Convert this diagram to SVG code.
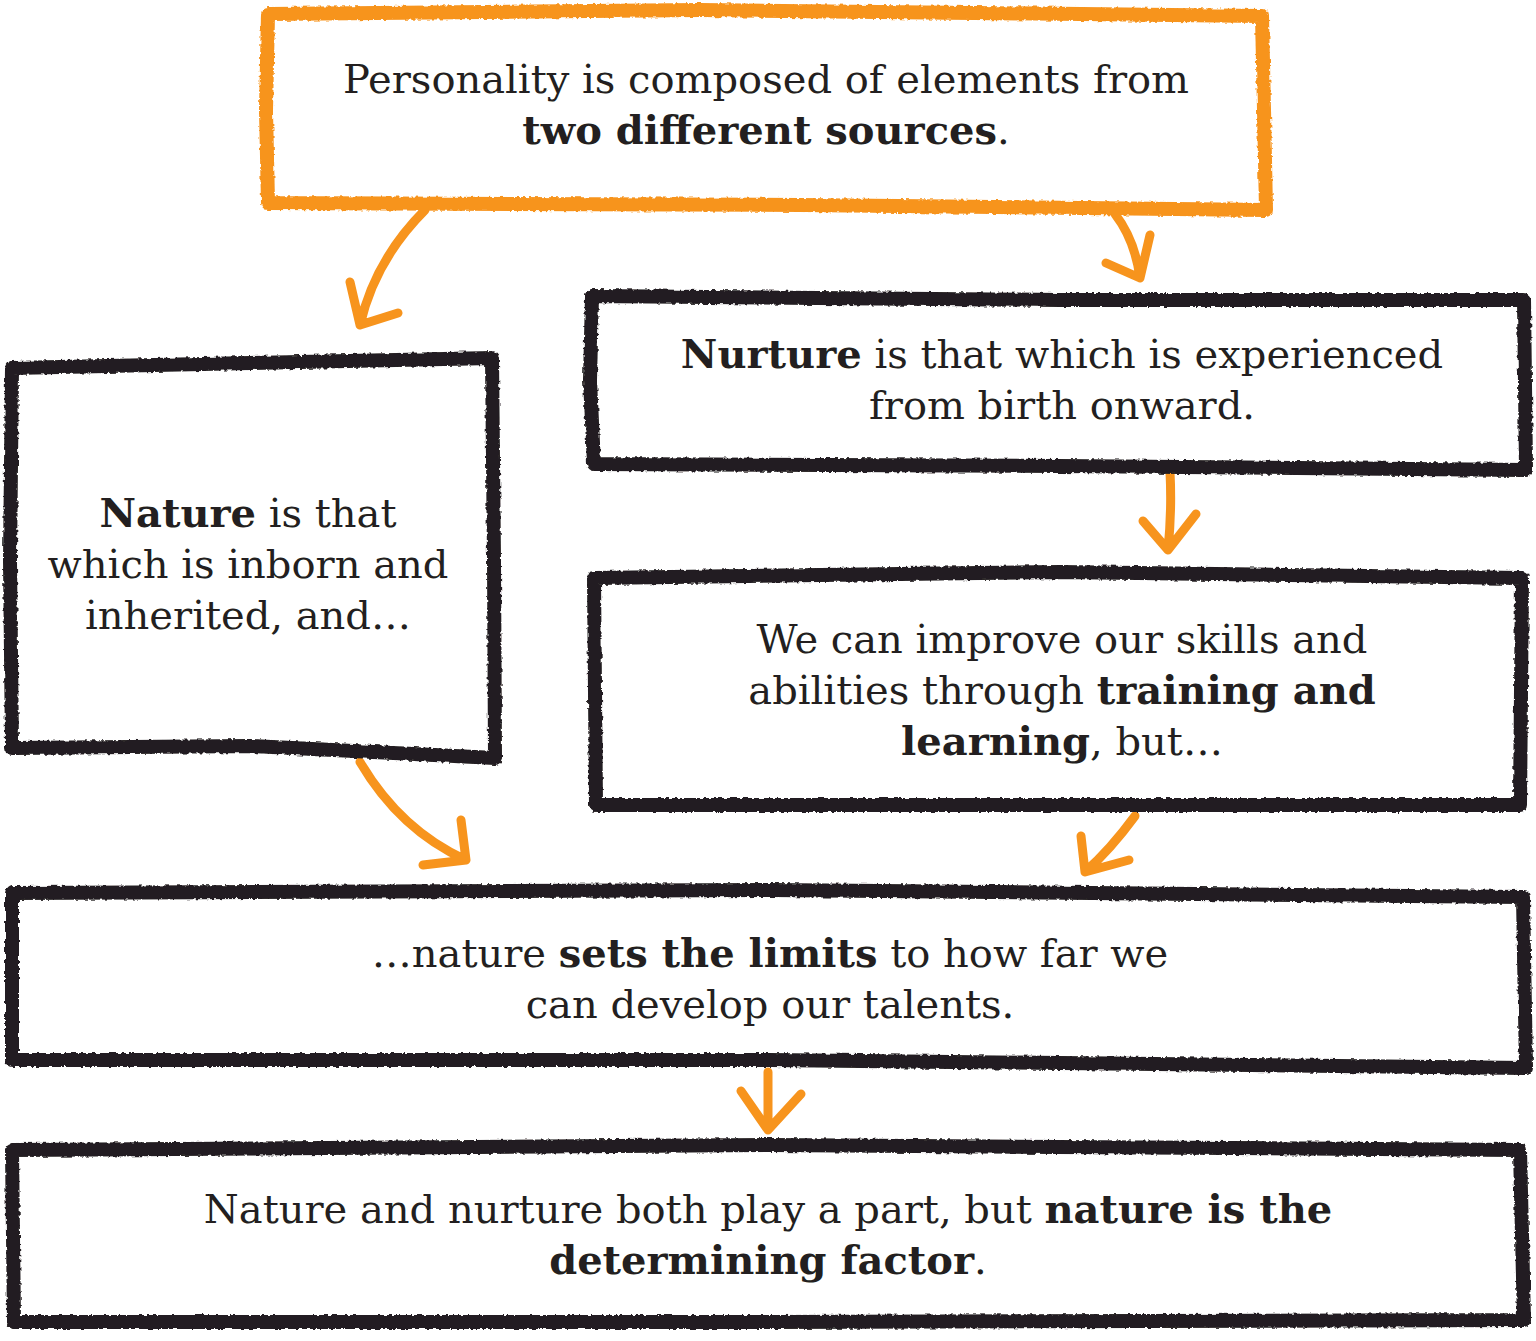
<svg xmlns="http://www.w3.org/2000/svg" width="1536" height="1341" viewBox="0 0 1536 1341">
<defs>
<filter id="rough" x="-5%" y="-5%" width="110%" height="110%">
<feTurbulence type="fractalNoise" baseFrequency="0.25" numOctaves="2" seed="3" result="n"/>
<feDisplacementMap in="SourceGraphic" in2="n" scale="4" xChannelSelector="R" yChannelSelector="G"/>
</filter>
<style>
.box{fill:#fff;stroke:#231f20;stroke-width:14;stroke-linejoin:round;filter:url(#rough)}
.obox{fill:#fff;stroke:#f7941d;stroke-width:14;stroke-linejoin:round;filter:url(#rough)}
.arr{fill:none;stroke:#f7941d;stroke-width:9;stroke-linecap:round;stroke-linejoin:round}
text{font-family:"DejaVu Serif","Liberation Serif",serif;font-size:40px;fill:#231f20;text-anchor:middle;font-weight:300}
.b{font-weight:bold}
</style>
</defs>
<rect width="1536" height="1341" fill="#fff"/>
<g id="connectors">
<path class="arr" d="M425,210 Q375,260 360,325 M350,282 L360,325 L398,313"/>
<path class="arr" d="M1115,214 Q1135,240 1140,278 M1106,263 L1140,278 L1150,235"/>
<path class="arr" d="M1170,472 Q1172,510 1168,550 M1143,521 L1168,550 L1196,514"/>
<path class="arr" d="M360,762 Q400,830 466,860 M461,820 L466,860 L423,865"/>
<path class="arr" d="M1135,816 Q1110,850 1085,872 M1081,836 L1085,872 L1129,860"/>
<path class="arr" d="M768,1072 L768,1130 M741,1091 L768,1130 L801,1094"/>
</g>
<g id="personality">
<path class="obox" d="M268,14 L700,10 L1262,16 L1264,110 L1266,210 L800,205 L268,203 L266,110 Z"/>
<text x="766" y="93">Personality is composed of elements from</text>
<text x="766" y="144"><tspan class="b">two different sources</tspan>.</text>
</g>
<g id="nature">
<path class="box" d="M12,368 L250,363 L492,358 L494,560 L495,758 L250,746 L12,748 L10,560 Z"/>
<text x="248" y="527"><tspan class="b">Nature</tspan> is that</text>
<text x="248" y="578">which is inborn and</text>
<text x="248" y="629">inherited, and…</text>
</g>
<g id="nurture">
<path class="box" d="M592,296 L1060,300 L1524,300 L1526,470 L1060,466 L594,464 L590,380 Z"/>
<text x="1062" y="368"><tspan class="b">Nurture</tspan> is that which is experienced</text>
<text x="1062" y="419">from birth onward.</text>
</g>
<g id="training">
<path class="box" d="M594,578 L1060,572 L1522,578 L1520,805 L1060,805 L596,805 Z"/>
<text x="1062" y="653">We can improve our skills and</text>
<text x="1062" y="704">abilities through <tspan class="b">training and</tspan></text>
<text x="1062" y="755"><tspan class="b">learning</tspan>, but…</text>
</g>
<g id="limits">
<path class="box" d="M12,893 L770,890 L1523,897 L1526,1068 L770,1060 L12,1060 Z"/>
<text x="770" y="967">…nature <tspan class="b">sets the limits</tspan> to how far we</text>
<text x="770" y="1018">can develop our talents.</text>
</g>
<g id="conclusion">
<path class="box" d="M12,1150 L770,1145 L1520,1150 L1524,1320 L770,1322 L14,1322 Z"/>
<text x="768" y="1223">Nature and nurture both play a part, but <tspan class="b">nature is the</tspan></text>
<text x="768" y="1274"><tspan class="b">determining factor</tspan>.</text>
</g>
</svg>
